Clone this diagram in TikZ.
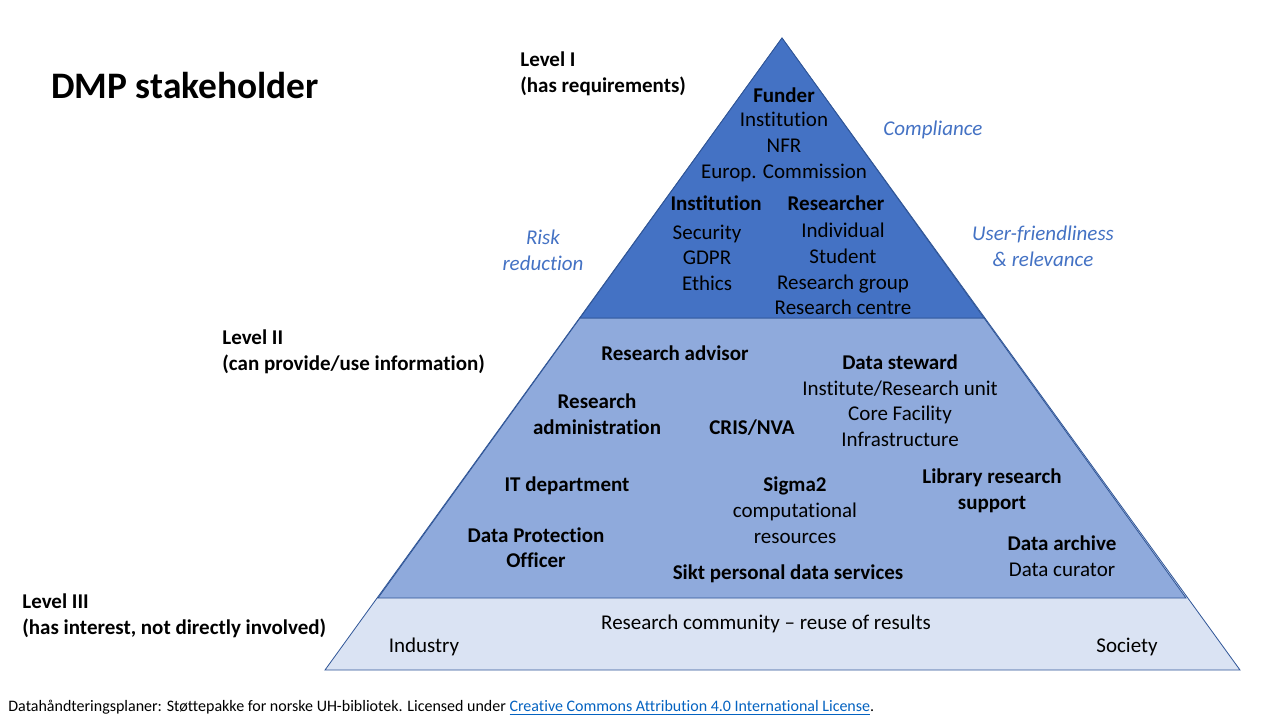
\documentclass[tikz,border=0pt]{standalone}
\usepackage{fontspec}
\setmainfont{Carlito}[Ligatures=NoCommon]
\definecolor{tierone}{HTML}{4472C4}
\definecolor{tiertwo}{HTML}{8FAADC}
\definecolor{tierthree}{HTML}{DAE3F3}
\definecolor{tieredge}{HTML}{2F5597}
\definecolor{linkblue}{HTML}{0563C1}
\tikzset{
  role/.style={font=\fontsize{10.5}{12.8}\selectfont, align=center, inner sep=0pt},
  head/.style={role, font=\fontsize{10.5}{12.8}\selectfont\bfseries},
  aim/.style={role, font=\fontsize{10.5}{12.8}\selectfont\itshape, text=tierone},
  level/.style={font=\fontsize{10.5}{12.8}\selectfont\bfseries, align=left, anchor=west, inner sep=0pt},
  tier/.style={draw=tieredge, line width=0.4pt},
}
\begin{document}
\begin{tikzpicture}[x=0.5pt, y=-0.5pt]
    \useasboundingbox[fill=white] (0,0) rectangle (1280,720);

    % pyramid, bottom to top
    \draw[tier, fill=tierthree] (782,38) -- (325,670) -- (1240,670) -- cycle;
    \draw[tier, fill=tiertwo] (580,318) -- (378,598) -- (1186,598) -- (984,318) -- cycle;
    \draw[tier, fill=tierone] (782,38) -- (580,318) -- (984,318) -- cycle;

    \node[anchor=west, inner sep=0pt, font=\fontsize{18.7}{22}\selectfont\bfseries] (title) at (51,86) {DMP stakeholder};

    \node[level] (lvlone) at (520,74) {Level I\\(has requirements)};
    \node[level] (lvltwo) at (222,352) {Level II\\(can provide/use information)};
    \node[level] (lvlthree) at (22,616) {Level III\\(has interest, not directly involved)};

    \node[aim] (compliance) at (933,130) {Compliance};
    \node[aim] (risk) at (543,250) {Risk\\reduction};
    \node[aim] (userfriendly) at (1043,246) {User-friendliness\\\& relevance};

    % level I
    \node[head] (funder) at (784,95) {Funder};
    \node[role] (funderlist) at (784,147) {Institution\\NFR\\Europ. Commission};
    \node[head] (institution) at (716,203) {Institution};
    \node[role] (institutionlist) at (707,257.5) {Security\\GDPR\\Ethics};
    \node[head] (researcher) at (836,203) {Researcher};
    \node[role] (researcherlist) at (843,269) {Individual\\Student\\Research group\\Research centre};

    % level II
    \node[head] (advisor) at (675,353) {Research advisor};
    \node[head] (steward) at (900,362) {Data steward};
    \node[role] (stewardlist) at (900,413.5) {Institute/Research unit\\Core Facility\\Infrastructure};
    \node[head] (admin) at (597,414) {Research\\administration};
    \node[head] (cris) at (752,428) {CRIS/NVA};
    \node[head] (itdept) at (567,486) {IT department};
    \node[head] (sigma) at (795,486) {Sigma2};
    \node[role] (sigmalist) at (795,523) {computational\\resources};
    \node[head] (library) at (992,491) {Library research\\support};
    \node[head] (dpo) at (536,547.5) {Data Protection\\Officer};
    \node[head] (sikt) at (788,574) {Sikt personal data services};
    \node[head] (archive) at (1062,543) {Data archive};
    \node[role] (curator) at (1062,570) {Data curator};

    % level III
    \node[role] (community) at (766,624) {Research community -- reuse of results};
    \node[role] (industry) at (424,647) {Industry};
    \node[role] (society) at (1127,647) {Society};

    \node[anchor=west, inner sep=0pt, font=\fontsize{8}{9.6}\selectfont] (footer) at (8,708)
      {Datahåndteringsplaner: Støttepakke for norske UH-bibliotek. Licensed under \textcolor{linkblue}{\underline{Creative Commons Attribution 4.0 International License}}.};
\end{tikzpicture}
\end{document}
